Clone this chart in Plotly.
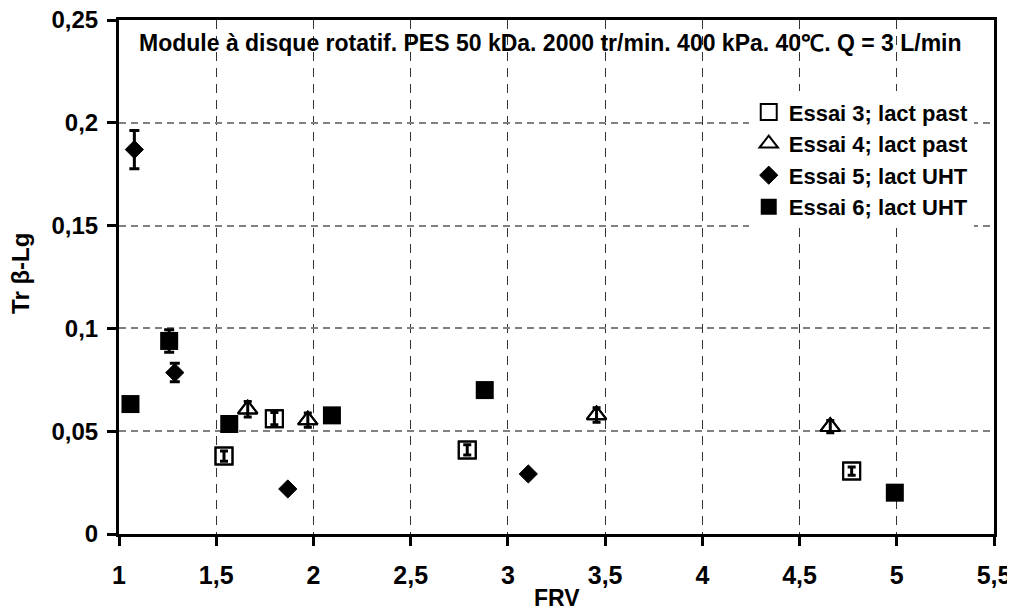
import plotly.graph_objects as go

# ---- data ----
e3_x = [1.540, 1.799, 2.791, 4.768]
e3_y = [0.0379, 0.0561, 0.0409, 0.0306]
e3_err = [0.0025, 0.0030, 0.0025, 0.0020]

e4_x = [1.662, 1.971, 3.456, 4.658]
e4_y = [0.0607, 0.0554, 0.0579, 0.0522]
e4_err = [0.0038, 0.0035, 0.0035, 0.0030]

e5_x = [1.079, 1.287, 1.868, 3.105]
e5_y = [0.1870, 0.0785, 0.0219, 0.0292]
e5_err = [0.0093, 0.0045, 0.0, 0.0]

e6_x = [1.059, 1.258, 1.567, 2.095, 2.881, 4.990]
e6_y = [0.0632, 0.0939, 0.0535, 0.0577, 0.0700, 0.0201]
e6_err = [0.0, 0.0055, 0.0, 0.0, 0.0, 0.0]

names = ["Essai 3; lact past", "Essai 4; lact past", "Essai 5; lact UHT", "Essai 6; lact UHT"]

x_tickvals = [1, 1.5, 2, 2.5, 3, 3.5, 4, 4.5, 5, 5.5]
x_ticktext = ["1", "1,5", "2", "2,5", "3", "3,5", "4", "4,5", "5", "5,5"]
y_tickvals = [0, 0.05, 0.1, 0.15, 0.2, 0.25]
y_ticktext = ["0", "0,05", "0,1", "0,15", "0,2", "0,25"]

title_text = "Module à disque rotatif. PES 50 kDa. 2000 tr/min. 400 kPa. 40℃. Q = 3 L/min"
x_title = "FRV"
y_title = "Tr β-Lg"

FONT = "Liberation Sans, Arial, sans-serif"

def err(vals, w=5):
    return dict(type="data", array=vals, visible=True, color="black", thickness=3, width=w)

fig = go.Figure()

# Essai 3: white-filled square underneath, error bars + open outline on top
fig.add_trace(go.Scatter(x=e3_x, y=e3_y, mode="markers", showlegend=False, hoverinfo="skip",
                         marker=dict(symbol="square", size=17, color="white",
                                     line=dict(color="black", width=2))))
fig.add_trace(go.Scatter(x=e3_x, y=e3_y, mode="markers", name=names[0], error_y=err(e3_err, 4),
                         marker=dict(symbol="square-open", size=17, color="black",
                                     line=dict(color="black", width=2))))

# Essai 4: open triangle
fig.add_trace(go.Scatter(x=e4_x, y=e4_y, mode="markers", showlegend=False, hoverinfo="skip",
                         marker=dict(symbol="triangle-up", size=17, color="white",
                                     line=dict(color="black", width=2))))
fig.add_trace(go.Scatter(x=e4_x, y=e4_y, mode="markers", name=names[1], error_y=err(e4_err, 4),
                         marker=dict(symbol="triangle-up-open", size=17, color="black",
                                     line=dict(color="black", width=2))))

# Essai 5: filled diamond
fig.add_trace(go.Scatter(x=e5_x, y=e5_y, mode="markers", name=names[2], error_y=err(e5_err, 5),
                         marker=dict(symbol="diamond", size=14, color="black",
                                     line=dict(color="black", width=1))))

# Essai 6: filled square
fig.add_trace(go.Scatter(x=e6_x, y=e6_y, mode="markers", name=names[3], error_y=err(e6_err, 5),
                         marker=dict(symbol="square", size=18, color="black",
                                     line=dict(color="black", width=0))))

fig.add_annotation(text=title_text, xref="paper", yref="paper", x=0.4926, y=0.955,
                   xanchor="center", yanchor="middle", showarrow=False,
                   font=dict(family=FONT, size=23, color="black", weight="bold"))
fig.add_annotation(text=x_title, xref="paper", yref="paper", x=0.5, y=-0.125,
                   xanchor="center", yanchor="middle", showarrow=False,
                   font=dict(family=FONT, size=23, color="black", weight="bold"))
fig.add_annotation(text=y_title, xref="paper", yref="paper", x=-0.112, y=0.506,
                   xanchor="center", yanchor="middle", showarrow=False, textangle=-90,
                   font=dict(family=FONT, size=24, color="black", weight="bold"))

# the page body adds an 8px offset; figure is sized so plot area lands at x 119-994, y 20-534
fig.update_layout(
    width=1007, height=606,
    margin=dict(l=111, r=21, t=12, b=80, pad=0, autoexpand=False),
    paper_bgcolor="white", plot_bgcolor="white",
    font=dict(family=FONT, color="black"),
    showlegend=True,
    legend=dict(x=0.7197, y=0.8615, xanchor="left", yanchor="top",
                bgcolor="white", borderwidth=0, tracegroupgap=0,
                font=dict(family=FONT, size=22, color="black", weight="bold"),
                itemsizing="trace"),
    xaxis=dict(range=[1, 5.5], tickvals=x_tickvals, ticktext=x_ticktext,
               automargin=False, ticklabeloverflow="allow",
               showline=True, linecolor="black", linewidth=3, mirror=True,
               ticks="outside", ticklen=9, tickwidth=3, tickcolor="black",
               ticklabelstandoff=8,
               showgrid=True, gridcolor="#333333", gridwidth=1, griddash="9px,7px",
               zeroline=False,
               tickfont=dict(family=FONT, size=25, color="black", weight="bold")),
    yaxis=dict(range=[0, 0.25], tickvals=y_tickvals, ticktext=y_ticktext,
               automargin=False, ticklabeloverflow="allow",
               showline=True, linecolor="black", linewidth=3, mirror=True,
               ticks="outside", ticklen=9, tickwidth=3, tickcolor="black",
               ticklabelstandoff=4,
               showgrid=True, gridcolor="#808080", gridwidth=2, griddash="7px,5px",
               zeroline=False,
               tickfont=dict(family=FONT, size=24, color="black", weight="bold")),
)

fig.write_html("out.html")
